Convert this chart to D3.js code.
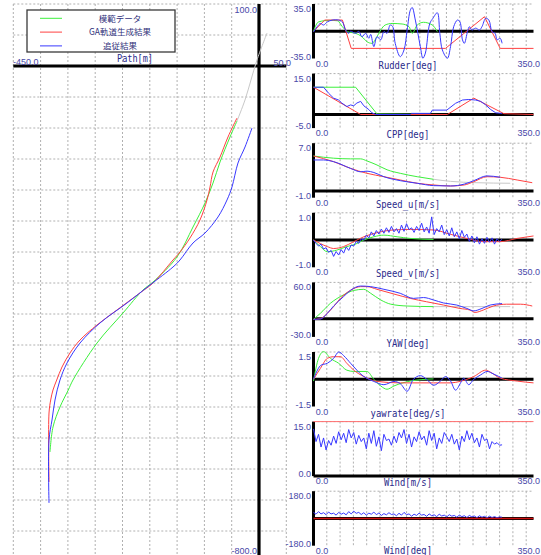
<!DOCTYPE html>
<html><head><meta charset="utf-8">
<script src="https://cdn.jsdelivr.net/npm/d3@7"></script>
<style>body{margin:0;background:#fff}svg{display:block}</style>
</head><body><svg id="c" width="541" height="555"></svg>
<script>
// ---------- Path panel data (x [m], y [m]) ----------
const pathGreenX = [-382.8,-377.3,-364.5,-349.3,-340.7,-296.7,-249.1,-212.5,-194.1,-150.2,-120.9,-98.9,-84.2,-71.4,-53.1,-40.3];
const pathGreenY = [-622.6,-582.3,-550,-522.6,-506.5,-446.8,-398.4,-361.3,-348.4,-308.1,-259.7,-221,-188.7,-154.8,-114.5,-88.7];
const pathRedX = [-384.6,-384.6,-381.5,-377.3,-370.5,-360.8,-346.2,-327.8,-296.7,-260.1,-218,-194.1,-157.5,-144.7,-126.4,-108.1,-95.2,-89.7,-84.2,-71.4,-56.8,-40.3];
const pathRedY = [-671,-559.7,-538.7,-522.6,-506.5,-485.5,-462.9,-441.9,-417.7,-393.5,-366,-350,-312.9,-300,-277.4,-248.4,-216.1,-195.2,-171,-146.8,-114.5,-83.9];
const pathBlueX = [-384.6,-384.6,-379.1,-373.6,-364.5,-351.6,-327.8,-291.2,-241.8,-199.6,-157.5,-144.7,-120.9,-98.9,-75.1,-58.6,-49.5,-38.5,-25.6,-12.8];
const pathBlueY = [-704.8,-603.2,-571,-538.7,-506.5,-479,-446.8,-414.5,-382.3,-353.2,-324.2,-312.9,-285.5,-269.4,-243.5,-216.1,-195.2,-156.5,-130.6,-100];
const pathGrayX = [-40.3,-25.6,-14.7,-3.7,14.7];
const pathGrayY = [-88.7,-54.8,-22.6,9.7,53.2];
const pathTickLabels = ["100.0","-800.0","-450.0","50.0"];
const legendLabels = ["模範データ","GA軌道生成結果","追従結果"];

// ---------- Time series (t [s]) ----------
const rudderGreenT = [0,8,25,38,46,54,67,77,85,93,101,107,114,125,141,152,157,165,175,189,197];
const rudderGreenV = [0,12,14,13.5,5.8,-0.5,-2.7,-7,-13.4,-15.5,-7,1.6,8,10,9.3,5.8,-2.7,8,11.5,8,-0.5];
const rudderRedT = [0,18,46,60,210,272,297,350];
const rudderRedV = [0,14.4,14.4,-22,-22,18.7,-22,-22];
const rudderBlueT = [0,6,11,16,22,30,40,46,51,56,59,67,72,77,83,88,91,96,101,107,112,117,122,126,130,138,144,149,154,157,162,170,174,178,185,190,197,201,205,213,218,223,229,233,237,240,245,248,252,258,264,268,274,279,284,289,292,297,300];
const rudderBlueV = [-1,6,10,8,12,14.4,14.4,12,1.6,-2.7,0,-2.7,0,-7,-2.7,-9,-4,-19.8,-7,-11,-0.5,-2.7,8,6,-15.5,-32.6,-24,1.6,27,30.5,14.4,-19.8,-34.7,-28,10,16.6,23.8,-2.7,-24,-34.7,-19.8,5.8,14.4,12,-11,-15.5,-0.5,5.8,1.6,4,1.6,5.8,16.6,14.4,-0.5,-2.7,-11,-9,-15.5];

const cppGreenT = [0,67,101,197];
const cppGreenV = [10,10,0.2,0];
const cppRedT = [0,75,213,255,303,350];
const cppRedV = [10,0,0,6,0.3,0];
const cppBlueT = [0,16,24,32,40,45,53,59,64,69,75,80,88,93,99,154,156,186,189,212,226,237,247,258,266,274,282,290,300];
const cppBlueV = [10,10,7.8,6,5.3,4.2,2.9,3.5,3.2,4.2,4.8,3.2,1.8,0.6,0,0,0.4,0.4,1.6,1.6,4.1,5.3,5.5,5.3,4.8,3.5,1.8,0.6,0.4];

const speedUGreenT = [0,32,59,75,85,101,117,138,165,191];
const speedUGreenV = [5.12,4.8,4.7,4.7,4.4,3.8,3.1,2.58,2.08,1.7];
const speedURedT = [0,32,59,85,112,138,165,191,218,240,255,276,297,324,348];
const speedURedV = [5.12,4.29,3.3,2.58,2.08,1.6,1.12,0.87,0.72,0.87,1.35,2.08,2.0,1.6,1.2];
const speedUBlueT = [0,16,32,59,75,85,96,112,138,165,191,218,240,255,276,297];
const speedUBlueV = [4.54,4.54,4.29,3.3,2.8,2.9,2.7,2.08,1.5,1.12,0.77,0.72,1.0,1.5,2.2,2.0];
const speedUGrayT = [191,218,260,313];
const speedUGrayV = [1.7,1.4,1.2,1.12];

const speedVGreenT = [0,11,22,37,53,67,80,96,112,133,154,191];
const speedVGreenV = [0,-0.24,-0.43,-0.37,-0.24,-0.15,0,0.12,0.18,0.12,0.06,0.02];
const speedVRedT = [0,22,32,48,64,80,101,127,154,191,218,244,270,297,324,350];
const speedVRedV = [0,-0.24,-0.31,-0.24,-0.06,0.12,0.27,0.37,0.39,0.37,0.21,0.06,-0.06,-0.06,0.06,0.15];
const speedVBlueV = [0,-0.12,-0.22,-0.15,-0.33,-0.28,-0.45,-0.38,-0.6,-0.42,-0.55,-0.35,-0.48,-0.25,-0.38,-0.18,-0.22,-0.05,-0.12,0.05,0,0.18,0.08,0.3,0.15,0.35,0.22,0.4,0.25,0.45,0.28,0.5,0.3,0.42,0.25,0.55,0.32,0.6,0.38,0.45,0.28,0.5,0.35,0.62,0.3,0.48,0.25,0.85,0.2,0.42,0.3,0.55,0.2,0.38,0.15,0.45,0.12,0.3,0.05,0.35,0.1,0.22,-0.05,0.15,-0.1,0.12,-0.15,0.05,-0.12,0.1,-0.08,0.08,-0.15,0.05,-0.05,0.03];

const yawGreenT = [0,11,27,48,64,80,91,107,123,149,191];
const yawGreenV = [-1,9,25.6,39.5,46.7,48.6,42,31,24,21,20];
const yawRedT = [0,11,22,32,43,59,75,85,101,128,154,180,207,233,249,257,270,286,307,329,348];
const yawRedV = [-1,0,9,20,34,47,53,53,48.6,40.8,33.6,28,22.6,17,14.3,10.4,14.3,21,24,24,21];
const yawBlueT = [0,11,22,32,48,59,75,91,112,138,159,175,191,207,228,244,255,268,281,300];
const yawBlueV = [-1,-0.5,9,21,36.7,47,54,53,48.6,42,33.6,35,31,26,22.6,17,13,17,22.6,25];
const yawGrayT = [191,250,313];
const yawGrayV = [20,20,20];

const yawrateGreenT = [0,8,16,27,40,53,64,85,96,107,117,128,154,191];
const yawrateGreenV = [-0.1,1.15,1.52,1.15,0.88,0.5,0.43,0.43,0,-0.37,-0.55,-0.37,-0.1,0.02];
const yawrateRedT = [0,11,22,32,43,53,64,80,101,138,191,218,233,255,274,281,297,324,350];
const yawrateRedV = [0,0.6,1.15,1.24,1.24,0.88,0.5,0.15,-0.12,-0.2,-0.2,-0.2,-0.12,0.15,0.5,0.4,0.06,-0.1,-0.2];
const yawrateBlueT = [0,11,22,32,40,48,59,69,80,96,112,128,138,149,159,170,180,191,202,210,218,226,234,239,247,255,266,276,284,292,300];
const yawrateBlueV = [0,0.75,0.88,1.15,1.5,1.3,0.88,0.5,0.15,-0.12,-0.3,-0.12,-0.24,-0.66,0,0.2,0,-0.33,-0.1,0.15,-0.1,-0.6,-0.2,0.06,-0.3,0,0.24,0.43,0.33,0.2,0.06];

const windSpdRedT = [0,350];
const windSpdRedV = [15,15];
const windSpdBlueV = [13,9.5,11.5,8,10.5,7.2,9.8,8.5,11,9,12.2,10,11.8,9.2,12.8,10.5,12,8.8,11.2,9.5,10.5,7.5,11.8,9,12.5,8.2,10.8,7,11.5,9.8,10.2,8.5,11,9.2,12,10.5,12.8,9,11.5,8,10.8,9.5,12.2,10,11,8.5,12.5,9.8,11.8,7.5,10.5,9,12,10.8,9.5,11.5,8.8,10.2,7.2,11,9.5,12.5,10,11.8,9.2,10.5,8,11.5,9.8,10.2,7.5,9.5,8.8,9.2,8.5,8.6];

const windDirRedT = [0,350];
const windDirRedV = [0,0];
const windDirBlueV = [40,28,45,30,38,25,42,30,35,22,40,28,36,24,45,30,48,34,40,26,38,22,35,28,42,25,36,20,32,24,38,26,30,18,34,22,40,25,30,15,28,20,35,22,26,14,30,18,24,12,28,16,22,10,25,15,20,8,22,12,18,6,20,10,16,5,18,8,14,4,15,6,12,5,10,8];

const panelTitles = ["Rudder[deg]","CPP[deg]","Speed_u[m/s]","Speed_v[m/s]","YAW[deg]","yawrate[deg/s]","Wind[m/s]","Wind[deg]"];
const panelMax = [35,15,7,1,60,1.5,15,180];
const panelMin = [-35,-5,-1,-1,-30,-1.5,0,-180];
const panelMaxLabels = ["35.0","15.0","7.0","1.0","60.0","1.5","15.0","180.0"];
const panelMinLabels = ["-35.0","-5.0","-1.0","-1.0","-30.0","-1.5","0.0","-180.0"];
const timeTickLabels = ["0.0","350.0"];

// ---------- drawing ----------
const svg = d3.select("#c");
const W = 541, H = 555;
const GREEN = "#3cf03c", RED = "#ff4040", BLUE = "#3838ff", GRAY = "#c8c8c8";
const gridColor = "#b0b0b0";
const tickColor = "#4848a8", titleColor = "#2a2a8a";
const tickFont = "Liberation Sans, Arial, sans-serif";
const monoFont = "DejaVu Sans Mono, monospace";
const zip = (a, b) => a.map((v, i) => [v, b[i]]);

function dashed(g, x1, y1, x2, y2) {
  g.append("line").attr("x1", x1).attr("y1", y1).attr("x2", x2).attr("y2", y2)
    .attr("stroke", gridColor).attr("stroke-width", 1).attr("stroke-dasharray", "2,2");
}

// Path panel
const px = d3.scaleLinear().domain([-450, 50]).range([13.3, 286.3]);
const py = d3.scaleLinear().domain([100, -800]).range([4, 562]);
const gP = svg.append("g");
d3.range(-450, 51, 50).forEach(v => { if (v !== 0) dashed(gP, px(v), py(100), px(v), H); });
d3.range(100, -801, -50).forEach(v => { if (v !== 0) dashed(gP, px(-450), py(v), px(50), py(v)); });
gP.append("line").attr("x1", px(0)).attr("x2", px(0)).attr("y1", py(100)).attr("y2", H)
  .attr("stroke", "#000").attr("stroke-width", 3.2);
gP.append("line").attr("x1", px(-450)).attr("x2", px(50)).attr("y1", py(0)).attr("y2", py(0))
  .attr("stroke", "#000").attr("stroke-width", 3.2);

const pLine = d3.line().x(d => px(d[0])).y(d => py(d[1])).curve(d3.curveCatmullRom);
[[pathGrayX, pathGrayY, GRAY], [pathGreenX, pathGreenY, GREEN], [pathRedX, pathRedY, RED], [pathBlueX, pathBlueY, BLUE]]
  .forEach(([xs, ys, c]) => gP.append("path").attr("d", pLine(zip(xs, ys)))
    .attr("fill", "none").attr("stroke", c).attr("stroke-width", 1));

gP.append("text").attr("x", 257).attr("y", 12.5).attr("text-anchor", "end").text(pathTickLabels[0]);
gP.append("text").attr("x", 257).attr("y", 554).attr("text-anchor", "end").text(pathTickLabels[1]);
gP.append("text").attr("x", 13).attr("y", 64.5).attr("text-anchor", "start").text(pathTickLabels[2]);
gP.append("text").attr("x", 291).attr("y", 65.5).attr("text-anchor", "end").text(pathTickLabels[3]);
gP.selectAll("text").attr("font-family", tickFont).attr("font-size", 9).attr("fill", tickColor);
gP.append("text").attr("x", 135).attr("y", 62).attr("text-anchor", "middle")
  .attr("font-family", monoFont).attr("font-size", 11).attr("fill", titleColor)
  .attr("textLength", 36).attr("lengthAdjust", "spacingAndGlyphs").text("Path[m]");

// legend
const gL = svg.append("g");
gL.append("rect").attr("x", 27).attr("y", 10).attr("width", 148).attr("height", 42)
  .attr("fill", "#fff").attr("stroke", "#3a3a3a").attr("stroke-width", 1.3);
[GREEN, RED, BLUE].forEach((c, i) => {
  const y = 18.3 + i * 13.8;
  gL.append("line").attr("x1", 40).attr("x2", 62).attr("y1", y).attr("y2", y).attr("stroke", c).attr("stroke-width", 1);
  gL.append("text").attr("x", 120).attr("y", y + 3.2).attr("text-anchor", "middle")
    .attr("font-family", "Noto Sans CJK JP, sans-serif").attr("font-size", 8.5).attr("fill", "#30307a")
    .text(legendLabels[i]);
});

// Right panels
const tx = d3.scaleLinear().domain([0, 350]).range([313.5, 533.5]);
const panelSeries = [
  [[rudderGreenT, rudderGreenV, GREEN, "m"], [rudderRedT, rudderRedV, RED, "l"], [rudderBlueT, rudderBlueV, BLUE, "c"]],
  [[cppGreenT, cppGreenV, GREEN, "l"], [cppRedT, cppRedV, RED, "l"], [cppBlueT, cppBlueV, BLUE, "l"]],
  [[speedUGrayT, speedUGrayV, GRAY, "m"], [speedUGreenT, speedUGreenV, GREEN, "m"], [speedURedT, speedURedV, RED, "m"], [speedUBlueT, speedUBlueV, BLUE, "m"]],
  [[speedVGreenT, speedVGreenV, GREEN, "m"], [speedVRedT, speedVRedV, RED, "m"], [speedVBlueV.map((v, i) => i * 4), speedVBlueV, BLUE, "l"]],
  [[yawGrayT, yawGrayV, GRAY, "m"], [yawGreenT, yawGreenV, GREEN, "m"], [yawRedT, yawRedV, RED, "m"], [yawBlueT, yawBlueV, BLUE, "m"]],
  [[yawrateGreenT, yawrateGreenV, GREEN, "m"], [yawrateRedT, yawrateRedV, RED, "m"], [yawrateBlueT, yawrateBlueV, BLUE, "c"]],
  [[windSpdRedT, windSpdRedV, "#ff7070", "l"], [windSpdBlueV.map((v, i) => i * 4), windSpdBlueV, BLUE, "l"]],
  [[windDirBlueV.map((v, i) => i * 4), windDirBlueV, BLUE, "l"], [windDirRedT, windDirRedV, "#d01010", "l"]]
];
const gridTimes = d3.range(1, 17).map(k => k * 350 / 16.55);

panelTitles.forEach((title, i) => {
  const top = 4 + 69.6 * i, bot = top + 54.5;
  const ty = d3.scaleLinear().domain([panelMin[i], panelMax[i]]).range([bot, top]);
  const g = svg.append("g");
  dashed(g, tx(0), top, tx(350), top);
  gridTimes.forEach(t => dashed(g, tx(t), top, tx(t), bot));
  const zeroY = ty(Math.max(panelMin[i], 0));
  g.append("line").attr("x1", tx(0)).attr("x2", tx(350)).attr("y1", zeroY).attr("y2", zeroY)
    .attr("stroke", "#000").attr("stroke-width", 3);
  g.append("line").attr("x1", tx(0)).attr("x2", tx(0)).attr("y1", top).attr("y2", bot)
    .attr("stroke", "#000").attr("stroke-width", 3);
  panelSeries[i].forEach(([ts, vs, c, k]) => {
    const curve = k === "m" ? d3.curveMonotoneX : (k === "c" ? d3.curveCatmullRom : d3.curveLinear);
    const ln = d3.line().x(d => tx(d[0])).y(d => ty(d[1])).curve(curve);
    g.append("path").attr("d", ln(zip(ts, vs))).attr("fill", "none").attr("stroke", c)
      .attr("stroke-width", (c === "#d01010") ? 1.6 : 1);
  });
  const lab = (x, y, s, a) => g.append("text").attr("x", x).attr("y", y).attr("text-anchor", a)
    .attr("font-family", tickFont).attr("font-size", 9).attr("fill", tickColor).text(s);
  lab(311, top + 8, panelMaxLabels[i], "end");
  lab(311, bot + 1, panelMinLabels[i], "end");
  lab(322, Math.min(bot + 8, 554), timeTickLabels[0], "middle");
  lab(540, Math.min(bot + 8, 554), timeTickLabels[1], "end");
  g.append("text").attr("x", 408).attr("y", Math.min(bot + 10, 553.5)).attr("text-anchor", "middle")
    .attr("font-family", monoFont).attr("font-size", 11).attr("fill", titleColor)
    .attr("textLength", title.length * 5.35).attr("lengthAdjust", "spacingAndGlyphs").text(title);
});
</script></body></html>
